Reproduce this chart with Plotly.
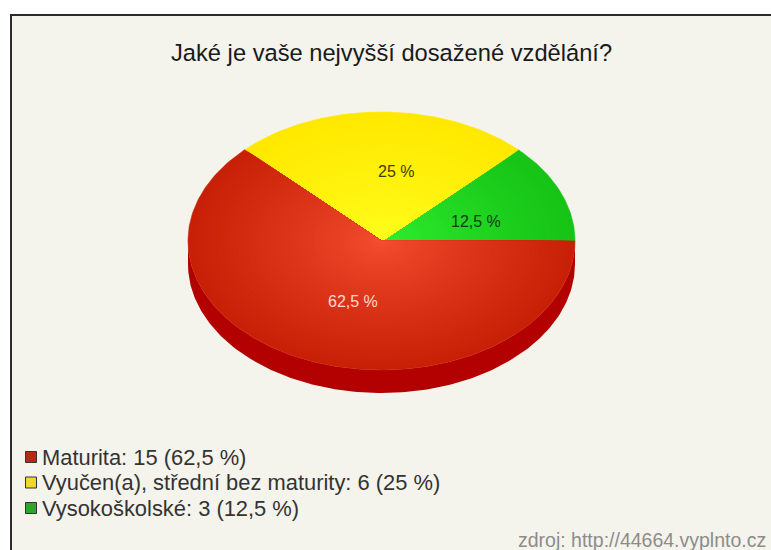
import numpy as np
import plotly.graph_objects as go

TITLE = "Jaké je vaše nejvyšší dosažené vzdělání?"
SOURCE = "zdroj: http://44664.vyplnto.cz"
labels = ["Vysokoškolské", "Vyučen(a), střední bez maturity", "Maturita"]
values = [3, 6, 15]
value_labels = ["12,5 %", "25 %", "62,5 %"]
legend_order = [2, 1, 0]
legend_text = ["Maturita: 15 (62,5 %)", "Vyučen(a), střední bez maturity: 6 (25 %)", "Vysokoškolské: 3 (12,5 %)"]

inner_colors = [(48, 240, 48), (255, 255, 30), (245, 80, 50)]
outer_colors = [(22, 195, 22), (255, 232, 0), (200, 32, 6)]
swatch_colors = ["#2ea52e", "#f2d72a", "#b52a10"]
side_color = "#b30000"
label_colors = ["#0d3d0d", "#3d3d00", "#ffd9cf"]
label_offsets = [(94, -20), (14, -70), (-29, 60)]

CX, CY, RX, RY, DEPTH = 381.5, 241, 193.5, 129, 23
RINGS = 40


def mix(a, b, t):
    return "rgb({},{},{})".format(*[round(a[i] + (b[i] - a[i]) * t) for i in range(3)])


fig = go.Figure()

# Pie edge: lower half of the rim, shifted down by the depth of the disc.
rim = np.radians(np.linspace(0, 180, 181))
rim_x = CX + RX * np.cos(rim)
rim_y = CY + RY * np.sin(rim)
fig.add_trace(go.Scatter(
    x=np.r_[rim_x, rim_x[::-1]],
    y=np.r_[rim_y + DEPTH, rim_y[::-1]],
    mode="lines", fill="toself", fillcolor=side_color, line=dict(width=0, color=side_color),
    hoverinfo="skip",
))

# Top face: wedges angled by their share of the total, shaded ring by ring from the rim inwards.
total = sum(values)
start = 0.0
for k, v in enumerate(values):
    sweep = 360.0 * v / total
    theta = np.radians(np.linspace(start, start + sweep, max(int(sweep), 2) + 1))
    for r in range(RINGS):
        t = 1 - r / RINGS
        x = np.r_[CX, CX + RX * t * np.cos(theta), CX]
        y = np.r_[CY, CY - RY * t * np.sin(theta), CY]
        colour = mix(inner_colors[k], outer_colors[k], t ** 0.8)
        fig.add_trace(go.Scatter(
            x=x, y=y, mode="lines", fill="toself", fillcolor=colour,
            line=dict(width=0.6, color=colour), hoverinfo="skip",
        ))
    start += sweep

# Percentage labels on the slices.
for k, text in enumerate(value_labels):
    fig.add_annotation(
        x=CX + label_offsets[k][0], y=CY + label_offsets[k][1],
        text=text, showarrow=False, font=dict(size=16, color=label_colors[k], family="Liberation Sans"),
    )

# Hand-placed legend with small outlined swatches.
for row, idx in enumerate(legend_order):
    y = 457 + row * 25.5
    fig.add_trace(go.Scatter(
        x=[31], y=[y], mode="markers", hoverinfo="skip",
        marker=dict(symbol="square", size=11, color=swatch_colors[idx], line=dict(width=1, color="#333333")),
    ))
    fig.add_annotation(
        x=40, y=y, text=legend_text[row], xanchor="left", showarrow=False,
        font=dict(size=21.9, color="#333333", family="Liberation Sans"),
    )

fig.add_annotation(
    x=391, y=53, text=TITLE, showarrow=False,
    font=dict(size=23.7, color="#1a1a1a", family="Liberation Sans"),
)
fig.add_annotation(
    x=768, y=540, text=SOURCE, xanchor="right", showarrow=False,
    font=dict(size=19.5, color="#8c8c8c", family="Liberation Sans"),
)

# White page margin and dark frame of the panel.
fig.add_shape(type="rect", x0=11, y0=15, x1=790, y1=570, fillcolor="#f4f4ec",
              line=dict(color="#2b2b2b", width=2), layer="below")

fig.update_layout(
    width=771, height=550, margin=dict(l=0, r=0, t=0, b=0), showlegend=False,
    paper_bgcolor="white", plot_bgcolor="white",
    xaxis=dict(range=[0, 771], visible=False, fixedrange=True),
    yaxis=dict(range=[550, 0], visible=False, fixedrange=True),
)
fig.write_html("out.html", config={"displayModeBar": False})
